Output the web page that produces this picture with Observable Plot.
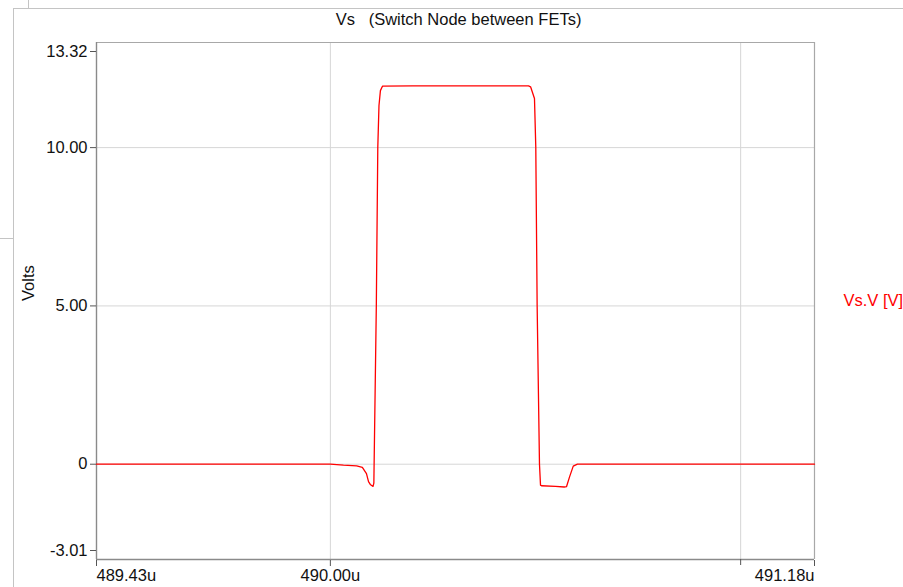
<!DOCTYPE html>
<html>
<head>
<meta charset="utf-8">
<script src="https://cdn.jsdelivr.net/npm/d3@7"></script>
<script src="https://cdn.jsdelivr.net/npm/@observablehq/plot@0.6"></script>
<style>
  html, body { margin: 0; padding: 0; background: #fff; }
  #wrap { position: relative; width: 903px; height: 587px; overflow: hidden; }
  .edge { position: absolute; background: #c4c4c4; }
  #chart { position: absolute; left: 0; top: 0; }
</style>
</head>
<body>
<div id="wrap">
  <!-- window panel edges -->
  <div class="edge" style="left:13px; top:8px; width:890px; height:1px;"></div>
  <div class="edge" style="left:13px; top:8px; width:1px; height:579px;"></div>
  <div class="edge" style="left:28px; top:0px; width:1px; height:8px;"></div>
  <div class="edge" style="left:0px; top:238px; width:13px; height:1px;"></div>
  <div id="chart"></div>
</div>
<script>
// Switch-node voltage Vs over one switching cycle (time in µs, volts)
const timeUs = [
  489.430, 490.000, 490.032, 490.064, 490.078, 490.088, 490.093, 490.098,
  490.104, 490.106, 490.112, 490.1156, 490.1185, 490.122, 490.127,
  490.200, 490.300, 490.400, 490.483, 490.488, 490.4975, 490.5007,
  490.504, 490.5097, 490.5122, 490.5146, 490.5488, 490.570, 490.5755,
  490.583, 490.592, 490.602, 491.180
];
const volts = [
  0.00, 0.00, -0.03, -0.05, -0.10, -0.30, -0.55, -0.65,
  -0.70, -0.60, 5.00, 10.00, 11.33, 11.80, 11.94,
  11.95, 11.95, 11.95, 11.95, 11.92, 11.55, 10.00,
  5.00, 0.00, -0.66, -0.68, -0.70, -0.72, -0.71,
  -0.40, -0.06, 0.00, 0.00
];

const xDomain = [489.43, 491.18];
const yDomain = [-3.01, 13.32];
const xGrid = [490.00, 491.00];
const yGrid = [10.00, 5.00, 0];

const titleText = "Vs\u00a0\u00a0\u00a0(Switch Node between FETs)";
const yTitle = "Volts";
const seriesName = "Vs.V [V]";

const samples = timeUs.map((t, i) => ({t, v: volts[i]}));

const xFmt = d => d.toFixed(2) + "u";
const yFmt = d => d === 0 ? "0" : d.toFixed(2);
const axisStyle = {tickSize: 6, tickPadding: 3, stroke: "#555", fill: "#111", label: null};

const chart = Plot.plot({
  width: 903,
  height: 587,
  marginLeft: 96,
  marginRight: 89,
  marginTop: 42,
  marginBottom: 28,
  style: {fontFamily: "'Liberation Sans', Arial, sans-serif", fontSize: "16.5px", background: "transparent"},
  x: {domain: xDomain},
  y: {domain: yDomain},
  marks: [
    // grid
    Plot.ruleX(xGrid, {stroke: "#d6d6d6", strokeWidth: 1}),
    Plot.ruleY(yGrid, {stroke: "#d6d6d6", strokeWidth: 1}),
    // frame: top and right lighter, left and bottom axes darker
    Plot.ruleY([yDomain[1]], {stroke: "#a8a8a8", strokeWidth: 1.2}),
    Plot.ruleX([xDomain[1]], {stroke: "#a8a8a8", strokeWidth: 1.2}),
    Plot.ruleY([yDomain[0]], {stroke: "#8a8a8a", strokeWidth: 1.4}),
    Plot.ruleX([xDomain[0]], {stroke: "#8a8a8a", strokeWidth: 1.4}),
    // x axis
    Plot.axisX([xDomain[0]], {...axisStyle, tickFormat: xFmt, textAnchor: "start", dy: 1}),
    Plot.axisX([490.00], {...axisStyle, tickFormat: xFmt, dy: 1}),
    Plot.axisX([491.00], {...axisStyle, tickFormat: () => ""}),
    Plot.axisX([xDomain[1]], {...axisStyle, tickFormat: xFmt, textAnchor: "end", dy: 1}),
    // y axis
    Plot.axisY(yGrid, {...axisStyle, tickFormat: yFmt}),
    Plot.axisY([yDomain[1]], {...axisStyle, tickFormat: yFmt, dy: 9}),
    Plot.axisY([yDomain[0]], {...axisStyle, tickFormat: yFmt, dy: -9}),
    // waveform
    Plot.line(samples, {x: "t", y: "v", stroke: "#ff0000", strokeWidth: 1.3}),
    // titles
    Plot.text([titleText], {frameAnchor: "top", dy: -29, dx: 3, fill: "#111", fontSize: 16.5}),
    Plot.text([yTitle], {frameAnchor: "left", dx: -68, rotate: -90, fill: "#111", fontSize: 16.5}),
    Plot.text([seriesName], {frameAnchor: "right", dx: 29, textAnchor: "start", fill: "#ff0000", fontSize: 16.5})
  ]
});
document.getElementById("chart").appendChild(chart);
</script>
</body>
</html>
